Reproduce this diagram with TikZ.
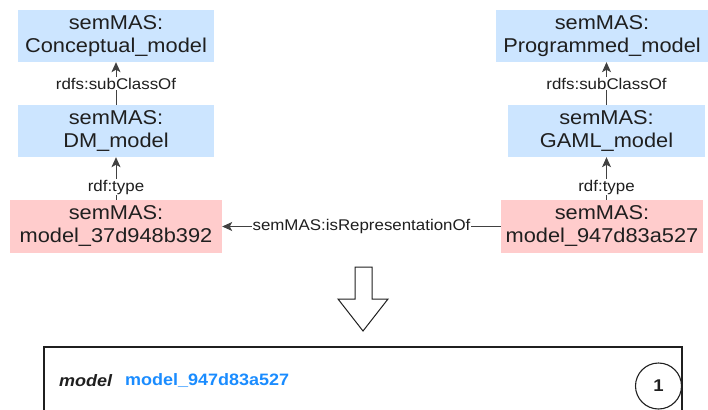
\documentclass[tikz,border=0pt]{standalone}
\usepackage{fontspec}
\newfontfamily\lab[FakeStretch=1.09]{Liberation Sans}
\usetikzlibrary{arrows.meta}
\definecolor{boxblue}{HTML}{CCE5FF}
\definecolor{boxred}{HTML}{FFCCCC}
\definecolor{txt}{HTML}{1F1F1F}
\definecolor{linkblue}{HTML}{1A8CFF}
\tikzset{
  cls/.style={rectangle, fill=boxblue, draw=none, text=txt, align=center, inner sep=0pt,
    font=\lab\fontsize{20}{23}\selectfont},
  inst/.style={rectangle, fill=boxred, draw=none, text=txt, align=center, inner sep=0pt,
    font=\lab\fontsize{20}{23}\selectfont},
  rel/.style={draw=txt!85, line width=0.9pt, -{Stealth[length=10pt,width=9pt,inset=2.5pt]}},
  rellab/.style={fill=white, text=txt, inner sep=1pt, font=\lab\fontsize{15.5}{17}\selectfont}
}
\begin{document}
\begin{tikzpicture}[x=1pt,y=-1pt]
\useasboundingbox (0,0) rectangle (708,409);
\clip (0,0) rectangle (708,409);
% left column
\node[cls, minimum width=196pt, minimum height=52pt] (cm) at (116,36) {semMAS:\\Conceptual\_model};
\node[cls, minimum width=196pt, minimum height=52pt] (dm) at (116,131) {semMAS:\\DM\_model};
\node[inst, minimum width=212pt, minimum height=53pt] (ml) at (116,226.5) {semMAS:\\model\_37d948b392};
% right column
\node[cls, minimum width=212pt, minimum height=52pt] (pm) at (602,36) {semMAS:\\Programmed\_model};
\node[cls, minimum width=197pt, minimum height=52pt] (gm) at (606.5,131) {semMAS:\\GAML\_model};
\node[inst, minimum width=202pt, minimum height=53pt] (mr) at (602,226.5) {semMAS:\\model\_947d83a527};
% edges
\draw[rel] (dm) -- node[rellab] {rdfs:subClassOf} (cm);
\draw[rel] (ml) -- node[rellab, pos=0.3] {rdf:type} (dm);
\draw[rel] (gm.north) -- node[rellab] {rdfs:subClassOf} (gm.north |- pm.south);
\draw[rel] (mr.north -| gm.south) -- node[rellab, pos=0.3] {rdf:type} (gm.south);
\draw[rel] (mr) -- node[rellab] {semMAS:isRepresentationOf} (ml);
% hollow arrow
\draw[line width=1pt, draw=txt, fill=white, line join=miter]
  (355,267) -- (372,267) -- (372,299) -- (388,299) -- (363,331) -- (338,299) -- (355,299) -- cycle;
% bottom panel
\draw[line width=1.2pt, draw=txt] (44,430) -- (44,347) -- (682,347) -- (682,430);
\node[anchor=west, inner sep=0pt, text=txt, font=\lab\fontsize{16.5}{19}\selectfont\bfseries\itshape] (kw) at (59,381) {model};
\node[anchor=west, inner sep=0pt, text=linkblue, font=\lab\fontsize{16.5}{19}\selectfont\bfseries] (val) at (125,381) {model\_947d83a527};
\node[circle, draw=txt, line width=1.1pt, minimum size=46pt, inner sep=0pt, text=txt,
  font=\lab\fontsize{17}{19}\selectfont\bfseries] (num) at (658.5,386) {1};
\end{tikzpicture}
\end{document}
